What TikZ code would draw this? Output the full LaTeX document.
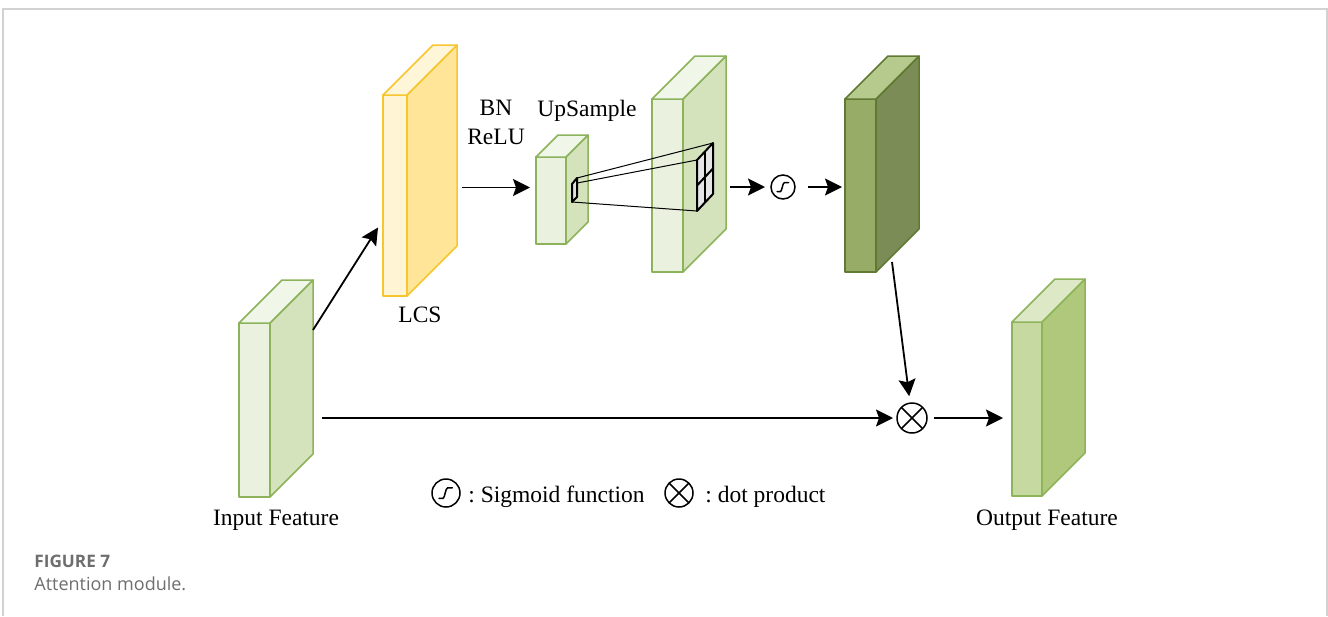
\documentclass[tikz,border=0pt]{standalone}
\usepackage{fontspec}
\setmainfont{Liberation Serif}
\newfontfamily\capfont{Open Sans}
\usetikzlibrary{arrows.meta,calc}

% face colours of the blocks: F front, S side, T top, D outline
\definecolor{inpF}{HTML}{EAF2DF}\definecolor{inpS}{HTML}{D5E3BD}
\definecolor{inpT}{HTML}{F0F6E8}\definecolor{inpD}{HTML}{8CB35C}
\definecolor{lcsF}{HTML}{FFF4D3}\definecolor{lcsS}{HTML}{FFE597}
\definecolor{lcsT}{HTML}{FFF5D8}\definecolor{lcsD}{HTML}{F7C62F}
\definecolor{attF}{HTML}{97AD67}\definecolor{attS}{HTML}{7B8C57}
\definecolor{attT}{HTML}{B6CA8D}\definecolor{attD}{HTML}{5F7A32}
\definecolor{outF}{HTML}{C5D9A0}\definecolor{outS}{HTML}{B0C87C}
\definecolor{outT}{HTML}{DCE8C6}\definecolor{outD}{HTML}{8DB45A}
\definecolor{capgray}{HTML}{6E6E6E}
\definecolor{framegray}{HTML}{D2D2D2}

% \cuboid{name}{x}{y}{width}{height}{depth}{colour set}
\newcommand\cuboid[7]{%
  \node[draw=#7D, fill=#7F, face, minimum width=#4*0.5pt, minimum height=#5*0.5pt,
        anchor=north west] (#1) at (#2,#3) {};
  \filldraw[draw=#7D, fill=#7S, face] (#1.north east) -- ++(#6,-#6) -- ++(0,#5)
     -- (#1.south east) -- cycle;
  \filldraw[draw=#7D, fill=#7T, face] (#1.north west) -- ++(#6,-#6) -- ++(#4,0)
     -- (#1.north east) -- cycle;
}

% sigmoid glyph inside a circle node of radius #2
\newcommand\sigglyph[2]{%
  \begin{scope}[shift={(#1.center)}, scale=#2/12]
    \draw[line width=0.75pt, line cap=round]
      (-6,4.5) -- (-2.5,4.5) .. controls (-1,4.5) and (-0.5,-4.5) .. (1.5,-4.5) -- (5.5,-4.5);
  \end{scope}}

\begin{document}
\begin{tikzpicture}[x=0.5pt, y=-0.5pt,
  face/.style={line width=0.75pt, line join=round, inner sep=0pt, outer sep=0pt},
  arr/.style={line width=0.9pt, -{Stealth[length=8.5pt, width=8.5pt, inset=1.5pt]}},
  ring/.style={circle, draw, line width=0.75pt, inner sep=0pt, outer sep=0pt},
  lbl/.style={font=\fontsize{11.75pt}{13.5pt}\selectfont, inner sep=0pt},
  thinline/.style={line width=0.5pt}]

\useasboundingbox (0,0) rectangle (1328,616);

% page frame
\draw[framegray, line width=1pt] (3,616) -- (3,9) -- (1327,9) -- (1327,616);

% feature blocks
\cuboid{inp}{239}{323}{31}{174}{43}{inp}
\cuboid{lcs}{383}{95}{24}{201}{50}{lcs}
\cuboid{sml}{536}{157}{30}{87}{22}{inp}
\cuboid{big}{652}{99}{31}{173}{43}{inp}
\cuboid{out}{1012}{322}{30}{174}{43}{out}

% upsampling: one cell spreads onto a 2x2 patch
\coordinate (q1) at (572,184); \coordinate (q2) at (577,178);
\coordinate (q3) at (577,197); \coordinate (q4) at (572,202);
\coordinate (g1) at (697,160); \coordinate (g2) at (713,143);
\coordinate (g3) at (713,194); \coordinate (g4) at (697,211);
\draw[thinline] (q2) -- (g2);
\draw[thinline] (q1) -- (g1);
\draw[thinline] (q4) -- (g4);
\filldraw[fill=black!12, line width=1pt, line join=round] (q1) -- (q2) -- (q3) -- (q4) -- cycle;
\filldraw[fill=black!10, line width=1pt, line join=round] (g1) -- (g2) -- (g3) -- (g4) -- cycle;
\draw[line width=1pt] ($(g1)!0.5!(g2)$) -- ($(g4)!0.5!(g3)$);
\draw[line width=1pt] ($(g1)!0.5!(g4)$) -- ($(g2)!0.5!(g3)$);

% operators
\node[ring, minimum size=24*0.5pt] (sig) at (783,187) {};
\sigglyph{sig}{12}
\node[ring, minimum size=30*0.5pt] (dot) at (912,418) {};
\draw[line width=0.75pt] (dot.north west) -- (dot.south east) (dot.north east) -- (dot.south west);

% connector from the attention map passes behind its block
\draw[arr, shorten >=7pt*0.5] ($(inp.north east)+(622,-61)$) coordinate (attstart) -- (dot);
\cuboid{att}{845}{99}{31}{173}{43}{att}

% connectors
\draw[arr] ($(inp.north east)+(43,7)$) -- ($(lcs.west)+(-5,32)$);
\draw[arr] ($(lcs.east)+(55,-8)$) -- ($(sml.west)+(-6,-13)$);
\draw[arr] ($(big.east)+(47,1.5)$) -- ($(sig.west)+(-6,0)$);
\draw[arr] ($(sig.east)+(13,0)$) -- ($(att.west|-sig.center)+(-3,0)$);
\draw[arr] ($(inp.east)+(52,8)$) -- ($(dot.west)+(-4,0)$);
\draw[arr] ($(dot.east)+(7,0)$) -- ($(out.west|-dot.center)+(-9,0)$);

% labels
\node[lbl, align=center, anchor=base] (bn) at (496,144) {BN\\[1pt]ReLU};
\node[lbl, anchor=base] (ups) at (587,116) {UpSample};
\node[lbl, anchor=base] (lcsl) at (420,322) {LCS};
\node[lbl, anchor=base] (inl) at (276,525) {Input Feature};
\node[lbl, anchor=base] (outl) at (1047,525) {Output Feature};

% legend
\node[ring, minimum size=28*0.5pt] (lsig) at (446,493) {};
\sigglyph{lsig}{14}
\node[lbl, anchor=base west] (lsigt) at (468,502) {:\ Sigmoid function};
\node[ring, minimum size=28*0.5pt] (ldot) at (679,493) {};
\draw[line width=0.75pt] (ldot.north west) -- (ldot.south east) (ldot.north east) -- (ldot.south west);
\node[lbl, anchor=base west] (ldott) at (705,502) {:\ dot product};

% caption
\node[anchor=base west, inner sep=0pt, text=capgray, font=\capfont\bfseries\fontsize{8.6pt}{10pt}\selectfont] (fig) at (34,567) {FIGURE 7};
\node[anchor=base west, inner sep=0pt, text=capgray, font=\capfont\fontsize{9pt}{10pt}\selectfont] (capt) at (34,590) {Attention module.};
\end{tikzpicture}
\end{document}
